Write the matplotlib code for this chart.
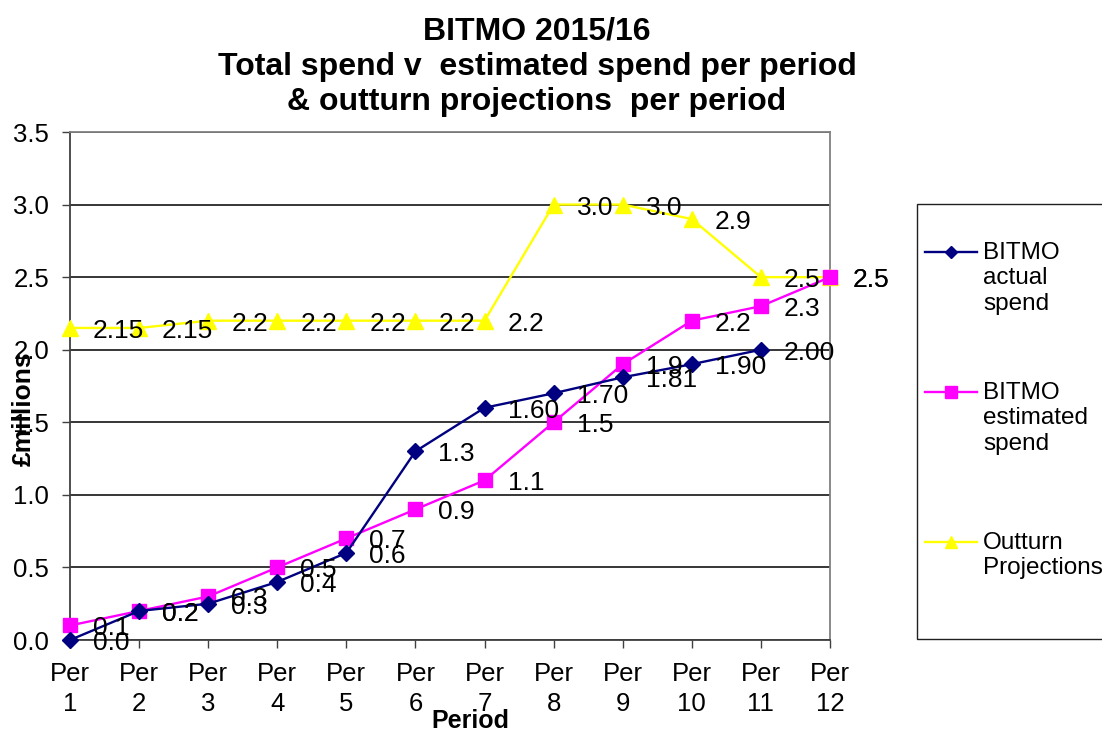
import matplotlib
matplotlib.use("Agg")
import matplotlib.pyplot as plt
from matplotlib.lines import Line2D
from matplotlib.patches import Rectangle
from matplotlib import font_manager as fm

# ---------------- data ----------------
periods = ["Per\n1", "Per\n2", "Per\n3", "Per\n4", "Per\n5", "Per\n6",
           "Per\n7", "Per\n8", "Per\n9", "Per\n10", "Per\n11", "Per\n12"]
actual = [0.0, 0.2, 0.25, 0.4, 0.6, 1.3, 1.6, 1.7, 1.81, 1.9, 2.0]
actual_labels = ["0.0", "0.2", "0.3", "0.4", "0.6", "1.3", "1.60", "1.70",
                 "1.81", "1.90", "2.00"]
estimated = [0.1, 0.2, 0.3, 0.5, 0.7, 0.9, 1.1, 1.5, 1.9, 2.2, 2.3, 2.5]
estimated_labels = ["0.1", "0.2", "0.3", "0.5", "0.7", "0.9", "1.1", "1.5",
                    "1.9", "2.2", "2.3", "2.5"]
outturn = [2.15, 2.15, 2.2, 2.2, 2.2, 2.2, 2.2, 3.0, 3.0, 2.9, 2.5, 2.5]
outturn_labels = ["2.15", "2.15", "2.2", "2.2", "2.2", "2.2", "2.2", "3.0",
                  "3.0", "2.9", "2.5", "2.5"]
series_names = ["BITMO\nactual\nspend", "BITMO\nestimated\nspend",
                "Outturn\nProjections"]
yticks = [0.0, 0.5, 1.0, 1.5, 2.0, 2.5, 3.0, 3.5]
title_lines = ["BITMO 2015/16", "Total spend v  estimated spend per period",
               "& outturn projections  per period"]

# ---------------- style ----------------
names = {f.name for f in fm.fontManager.ttflist}
base = "Liberation Sans" if "Liberation Sans" in names else "DejaVu Sans"
narrow = "Liberation Sans Narrow" if "Liberation Sans Narrow" in names else base
plt.rcParams["font.family"] = [base, "DejaVu Sans"]

W, H = 1102, 733
fig = plt.figure(figsize=(W / 100, H / 100), dpi=100)

def fx(px):
    return px / W

def fy(py):
    return 1 - py / H

ax = fig.add_axes([fx(70), fy(640), fx(830) - fx(70), fy(132) - fy(640)])

x = list(range(len(periods)))
c_act, c_est, c_out = "#000080", "#FF00FF", "#FFFF00"

l_out, = ax.plot(x[:len(outturn)], outturn, color=c_out, lw=1.7, marker="^",
                 ms=11, zorder=3, clip_on=False)
l_est, = ax.plot(x[:len(estimated)], estimated, color=c_est, lw=1.7, marker="s",
                 ms=10.5, zorder=4, clip_on=False)
l_act, = ax.plot(x[:len(actual)], actual, color=c_act, lw=1.7, marker="D",
                 ms=7.8, zorder=5, clip_on=False)

def add_labels(vals, labs):
    for xi, (v, s) in enumerate(zip(vals, labs)):
        ax.annotate(s, (xi, v), xytext=(23, -3), textcoords="offset pixels",
                    ha="left", va="center", fontsize=19, color="black",
                    zorder=6, annotation_clip=False)

add_labels(outturn, outturn_labels)
add_labels(estimated, estimated_labels)
add_labels(actual, actual_labels)

ax.set_xlim(0, len(periods) - 1)
ax.set_ylim(0, 3.5)
ax.set_xticks(x)
ax.set_xticklabels(periods, fontsize=18.5, linespacing=1.3)
ax.set_yticks(yticks)
ax.set_yticklabels([f"{t:.1f}" for t in yticks], fontsize=18.5)
ax.tick_params(axis="x", direction="out", length=6, width=1, pad=10, color="#404040")
ax.tick_params(axis="y", direction="out", length=6, width=1, pad=9, color="#404040")
ax.grid(axis="y", color="black", lw=1.1, zorder=1)
ax.set_axisbelow(True)
for s in ["left", "bottom"]:
    ax.spines[s].set_color("#404040")
    ax.spines[s].set_linewidth(1.3)
for s in ["top", "right"]:
    ax.spines[s].set_color("#808080")
    ax.spines[s].set_linewidth(1.3)

# title
for line, by in zip(title_lines, [40, 75, 110]):
    fig.text(fx(537), fy(by), line, ha="center", va="baseline",
             fontsize=23, fontweight="bold", family=[narrow, "DejaVu Sans"])

# axis labels
fig.text(fx(24), fy(409), "£millions", rotation=90, ha="center", va="center",
         fontsize=19, fontweight="bold")
fig.text(fx(470), fy(733), "Period", ha="center", va="bottom",
         fontsize=18, fontweight="bold")

# legend box (manual)
fig.patches.append(Rectangle((fx(917), fy(639)), fx(1110) - fx(917),
                             fy(204) - fy(639), transform=fig.transFigure,
                             facecolor="white", edgecolor="#202020", lw=1.0,
                             zorder=0))
for line, name, ly in zip([l_act, l_est, l_out], series_names, [252, 392, 542]):
    h = Line2D([fx(925), fx(977)], [fy(ly), fy(ly)], transform=fig.transFigure,
               color=line.get_color(), lw=line.get_linewidth())
    m = Line2D([fx(951)], [fy(ly)], transform=fig.transFigure,
               color=line.get_color(), marker=line.get_marker(),
               ms=line.get_markersize() * 0.8, lw=0)
    fig.lines.extend([h, m])
    fig.text(fx(983), fy(ly - 10), name, ha="left", va="top", fontsize=17.5,
             linespacing=1.2)

fig.savefig("out.png", dpi=100)
